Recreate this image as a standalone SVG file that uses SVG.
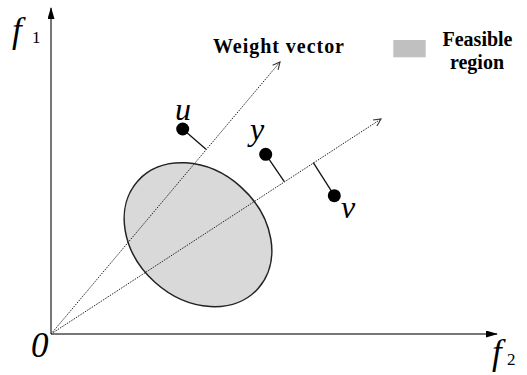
<svg xmlns="http://www.w3.org/2000/svg" width="527" height="375" viewBox="0 0 527 375">
<style>
.axis{stroke:#777;stroke-width:2;fill:none}
.dot-line{stroke:#222;stroke-width:1;stroke-dasharray:1.5 1.2;fill:none}
.perp{stroke:#111;stroke-width:1.3}
.pt{fill:#000}
.it{font-family:"Times New Roman","Liberation Serif",Tinos,serif;font-style:italic;fill:#000}
.sub{font-family:"Times New Roman","Liberation Serif",serif;fill:#000}
.bold{font-family:"Times New Roman","Liberation Serif",serif;font-weight:bold;fill:#000}
</style>
<defs>
<marker id="solid" viewBox="0 0 12 7" refX="11" refY="3.5" markerWidth="12" markerHeight="7" markerUnits="userSpaceOnUse" orient="auto">
<path d="M0,0 L12,3.5 L0,7 Z" fill="#000"/>
</marker>
<marker id="open" viewBox="0 0 10 10" refX="9" refY="5" markerWidth="9" markerHeight="9" markerUnits="userSpaceOnUse" orient="auto">
<path d="M1,1 L9,5 L1,9" fill="none" stroke="#333" stroke-width="1.2"/>
</marker>
</defs>
<g id="region">
<ellipse cx="198" cy="234.7" rx="80.7" ry="64.2" transform="rotate(41.8 198 234.7)" fill="#d9d9d9" stroke="#222" stroke-width="1.5"/>
</g>
<g id="connectors">
<line class="axis" x1="51" y1="334" x2="51" y2="8" marker-end="url(#solid)"/>
<line class="axis" x1="51" y1="334" x2="497" y2="334" marker-end="url(#solid)"/>
<line class="dot-line" x1="51" y1="334" x2="280" y2="62" marker-end="url(#open)"/>
<line class="dot-line" x1="51" y1="334" x2="381" y2="119" marker-end="url(#open)"/>
<line class="perp" x1="182.7" y1="129" x2="206" y2="149.3"/>
<line class="perp" x1="265.7" y1="154.3" x2="284.3" y2="181.7"/>
<line class="perp" x1="313.3" y1="162.7" x2="334.3" y2="195.7"/>
</g>
<g id="axis-labels">
<text class="it" x="12" y="42" font-size="35">f</text>
<text class="sub" x="32" y="42.5" font-size="17">1</text>
<text class="it" x="492" y="364" font-size="35">f</text>
<text class="sub" x="507" y="365" font-size="17">2</text>
<text class="it" x="31" y="357" font-size="35">0</text>
</g>
<g id="point-u">
<circle class="pt" cx="182.7" cy="129" r="6.5"/>
<text class="it" x="175" y="120" font-size="32">u</text>
</g>
<g id="point-y">
<circle class="pt" cx="265.7" cy="154.3" r="6.5"/>
<text class="it" x="250" y="140" font-size="32">y</text>
</g>
<g id="point-v">
<circle class="pt" cx="334.3" cy="195.7" r="6.5"/>
<text class="it" x="341" y="218" font-size="32">v</text>
</g>
<g id="weight-label">
<text class="bold" x="213" y="52.7" font-size="20" textLength="131" lengthAdjust="spacing">Weight vector</text>
</g>
<g id="legend">
<rect x="393.3" y="40" width="32.4" height="17.3" fill="#c0c0c0"/>
<text class="bold" x="477.5" y="46" font-size="20" text-anchor="middle">Feasible</text>
<text class="bold" x="477" y="69" font-size="20" text-anchor="middle">region</text>
</g>
</svg>
